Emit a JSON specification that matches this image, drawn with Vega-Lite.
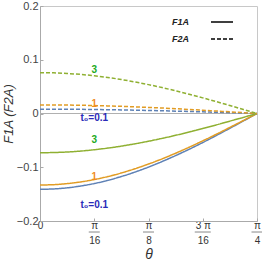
{
  "$schema": "https://vega.github.io/schema/vega-lite/v6.json",
  "width": 217,
  "height": 215,
  "autosize": {"type": "none"},
  "padding": {"left": 40, "top": 6, "right": 5, "bottom": 44},
  "background": "white",
  "config": {
    "font": "Liberation Sans",
    "view": {"stroke": "#c8c8c8", "strokeWidth": 1},
    "axis": {"grid": false, "domainColor": "#aaaaaa", "tickColor": "#aaaaaa", "labelColor": "#444444", "titleColor": "#333333", "labelFont": "Liberation Sans", "titleFont": "Liberation Sans"}
  },
  "datasets": {
    "curves": [
      {"theta": 0.0, "t0": "0.1", "F": "F1A", "value": -0.1410},
      {"theta": 0.04909, "t0": "0.1", "F": "F1A", "value": -0.1403},
      {"theta": 0.09817, "t0": "0.1", "F": "F1A", "value": -0.1383},
      {"theta": 0.14726, "t0": "0.1", "F": "F1A", "value": -0.1349},
      {"theta": 0.19635, "t0": "0.1", "F": "F1A", "value": -0.1303},
      {"theta": 0.24544, "t0": "0.1", "F": "F1A", "value": -0.1244},
      {"theta": 0.29452, "t0": "0.1", "F": "F1A", "value": -0.1172},
      {"theta": 0.34361, "t0": "0.1", "F": "F1A", "value": -0.1090},
      {"theta": 0.39270, "t0": "0.1", "F": "F1A", "value": -0.0997},
      {"theta": 0.44179, "t0": "0.1", "F": "F1A", "value": -0.0894},
      {"theta": 0.49087, "t0": "0.1", "F": "F1A", "value": -0.0783},
      {"theta": 0.53996, "t0": "0.1", "F": "F1A", "value": -0.0665},
      {"theta": 0.58905, "t0": "0.1", "F": "F1A", "value": -0.0540},
      {"theta": 0.63814, "t0": "0.1", "F": "F1A", "value": -0.0409},
      {"theta": 0.68722, "t0": "0.1", "F": "F1A", "value": -0.0275},
      {"theta": 0.73631, "t0": "0.1", "F": "F1A", "value": -0.0138},
      {"theta": 0.78540, "t0": "0.1", "F": "F1A", "value": 0.0},
      {"theta": 0.0, "t0": "1", "F": "F1A", "value": -0.1330},
      {"theta": 0.04909, "t0": "1", "F": "F1A", "value": -0.1324},
      {"theta": 0.09817, "t0": "1", "F": "F1A", "value": -0.1304},
      {"theta": 0.14726, "t0": "1", "F": "F1A", "value": -0.1273},
      {"theta": 0.19635, "t0": "1", "F": "F1A", "value": -0.1229},
      {"theta": 0.24544, "t0": "1", "F": "F1A", "value": -0.1173},
      {"theta": 0.29452, "t0": "1", "F": "F1A", "value": -0.1106},
      {"theta": 0.34361, "t0": "1", "F": "F1A", "value": -0.1028},
      {"theta": 0.39270, "t0": "1", "F": "F1A", "value": -0.0940},
      {"theta": 0.44179, "t0": "1", "F": "F1A", "value": -0.0844},
      {"theta": 0.49087, "t0": "1", "F": "F1A", "value": -0.0739},
      {"theta": 0.53996, "t0": "1", "F": "F1A", "value": -0.0627},
      {"theta": 0.58905, "t0": "1", "F": "F1A", "value": -0.0509},
      {"theta": 0.63814, "t0": "1", "F": "F1A", "value": -0.0386},
      {"theta": 0.68722, "t0": "1", "F": "F1A", "value": -0.0259},
      {"theta": 0.73631, "t0": "1", "F": "F1A", "value": -0.0130},
      {"theta": 0.78540, "t0": "1", "F": "F1A", "value": 0.0},
      {"theta": 0.0, "t0": "3", "F": "F1A", "value": -0.0730},
      {"theta": 0.04909, "t0": "3", "F": "F1A", "value": -0.0726},
      {"theta": 0.09817, "t0": "3", "F": "F1A", "value": -0.0716},
      {"theta": 0.14726, "t0": "3", "F": "F1A", "value": -0.0699},
      {"theta": 0.19635, "t0": "3", "F": "F1A", "value": -0.0674},
      {"theta": 0.24544, "t0": "3", "F": "F1A", "value": -0.0644},
      {"theta": 0.29452, "t0": "3", "F": "F1A", "value": -0.0607},
      {"theta": 0.34361, "t0": "3", "F": "F1A", "value": -0.0564},
      {"theta": 0.39270, "t0": "3", "F": "F1A", "value": -0.0516},
      {"theta": 0.44179, "t0": "3", "F": "F1A", "value": -0.0463},
      {"theta": 0.49087, "t0": "3", "F": "F1A", "value": -0.0406},
      {"theta": 0.53996, "t0": "3", "F": "F1A", "value": -0.0344},
      {"theta": 0.58905, "t0": "3", "F": "F1A", "value": -0.0279},
      {"theta": 0.63814, "t0": "3", "F": "F1A", "value": -0.0212},
      {"theta": 0.68722, "t0": "3", "F": "F1A", "value": -0.0142},
      {"theta": 0.73631, "t0": "3", "F": "F1A", "value": -0.0072},
      {"theta": 0.78540, "t0": "3", "F": "F1A", "value": 0.0},
      {"theta": 0.0, "t0": "0.1", "F": "F2A", "value": 0.0080},
      {"theta": 0.04909, "t0": "0.1", "F": "F2A", "value": 0.0080},
      {"theta": 0.09817, "t0": "0.1", "F": "F2A", "value": 0.0078},
      {"theta": 0.14726, "t0": "0.1", "F": "F2A", "value": 0.0077},
      {"theta": 0.19635, "t0": "0.1", "F": "F2A", "value": 0.0074},
      {"theta": 0.24544, "t0": "0.1", "F": "F2A", "value": 0.0071},
      {"theta": 0.29452, "t0": "0.1", "F": "F2A", "value": 0.0067},
      {"theta": 0.34361, "t0": "0.1", "F": "F2A", "value": 0.0062},
      {"theta": 0.39270, "t0": "0.1", "F": "F2A", "value": 0.0057},
      {"theta": 0.44179, "t0": "0.1", "F": "F2A", "value": 0.0051},
      {"theta": 0.49087, "t0": "0.1", "F": "F2A", "value": 0.0044},
      {"theta": 0.53996, "t0": "0.1", "F": "F2A", "value": 0.0038},
      {"theta": 0.58905, "t0": "0.1", "F": "F2A", "value": 0.0031},
      {"theta": 0.63814, "t0": "0.1", "F": "F2A", "value": 0.0023},
      {"theta": 0.68722, "t0": "0.1", "F": "F2A", "value": 0.0016},
      {"theta": 0.73631, "t0": "0.1", "F": "F2A", "value": 0.0008},
      {"theta": 0.78540, "t0": "0.1", "F": "F2A", "value": 0.0},
      {"theta": 0.0, "t0": "1", "F": "F2A", "value": 0.0160},
      {"theta": 0.04909, "t0": "1", "F": "F2A", "value": 0.0159},
      {"theta": 0.09817, "t0": "1", "F": "F2A", "value": 0.0157},
      {"theta": 0.14726, "t0": "1", "F": "F2A", "value": 0.0153},
      {"theta": 0.19635, "t0": "1", "F": "F2A", "value": 0.0148},
      {"theta": 0.24544, "t0": "1", "F": "F2A", "value": 0.0141},
      {"theta": 0.29452, "t0": "1", "F": "F2A", "value": 0.0133},
      {"theta": 0.34361, "t0": "1", "F": "F2A", "value": 0.0124},
      {"theta": 0.39270, "t0": "1", "F": "F2A", "value": 0.0113},
      {"theta": 0.44179, "t0": "1", "F": "F2A", "value": 0.0102},
      {"theta": 0.49087, "t0": "1", "F": "F2A", "value": 0.0089},
      {"theta": 0.53996, "t0": "1", "F": "F2A", "value": 0.0075},
      {"theta": 0.58905, "t0": "1", "F": "F2A", "value": 0.0061},
      {"theta": 0.63814, "t0": "1", "F": "F2A", "value": 0.0046},
      {"theta": 0.68722, "t0": "1", "F": "F2A", "value": 0.0031},
      {"theta": 0.73631, "t0": "1", "F": "F2A", "value": 0.0016},
      {"theta": 0.78540, "t0": "1", "F": "F2A", "value": 0.0},
      {"theta": 0.0, "t0": "3", "F": "F2A", "value": 0.0760},
      {"theta": 0.04909, "t0": "3", "F": "F2A", "value": 0.0756},
      {"theta": 0.09817, "t0": "3", "F": "F2A", "value": 0.0745},
      {"theta": 0.14726, "t0": "3", "F": "F2A", "value": 0.0727},
      {"theta": 0.19635, "t0": "3", "F": "F2A", "value": 0.0702},
      {"theta": 0.24544, "t0": "3", "F": "F2A", "value": 0.0670},
      {"theta": 0.29452, "t0": "3", "F": "F2A", "value": 0.0632},
      {"theta": 0.34361, "t0": "3", "F": "F2A", "value": 0.0587},
      {"theta": 0.39270, "t0": "3", "F": "F2A", "value": 0.0537},
      {"theta": 0.44179, "t0": "3", "F": "F2A", "value": 0.0482},
      {"theta": 0.49087, "t0": "3", "F": "F2A", "value": 0.0422},
      {"theta": 0.53996, "t0": "3", "F": "F2A", "value": 0.0358},
      {"theta": 0.58905, "t0": "3", "F": "F2A", "value": 0.0291},
      {"theta": 0.63814, "t0": "3", "F": "F2A", "value": 0.0221},
      {"theta": 0.68722, "t0": "3", "F": "F2A", "value": 0.0148},
      {"theta": 0.73631, "t0": "3", "F": "F2A", "value": 0.0074},
      {"theta": 0.78540, "t0": "3", "F": "F2A", "value": 0.0}
    ],
    "labels": [
      {"theta": 0.19635, "value": 0.081, "label": "3", "t0": "3"},
      {"theta": 0.19635, "value": -0.050, "label": "3", "t0": "3"},
      {"theta": 0.19635, "value": 0.017, "label": "1", "t0": "1"},
      {"theta": 0.19635, "value": -0.119, "label": "1", "t0": "1"},
      {"theta": 0.19635, "value": -0.009, "label": "t₀=0.1", "t0": "0.1"},
      {"theta": 0.19635, "value": -0.171, "label": "t₀=0.1", "t0": "0.1"}
    ],
    "fracticks": [
      {"theta": 0.19635},
      {"theta": 0.392699},
      {"theta": 0.589049},
      {"theta": 0.785398}
    ]
  },
  "layer": [
    {
      "data": {"values": [{"y0": 0}]},
      "mark": {"type": "rule", "color": "#b0b0b0", "strokeWidth": 1},
      "encoding": {"y": {"field": "y0", "type": "quantitative"}}
    },
    {
      "data": {"name": "curves"},
      "mark": {"type": "line", "strokeWidth": 1.5, "interpolate": "monotone"},
      "encoding": {
        "x": {
          "field": "theta", "type": "quantitative",
          "scale": {"domain": [0, 0.785398], "nice": false, "zero": false},
          "axis": {
            "title": "θ", "titleFontStyle": "italic", "titleFontSize": 14, "titleFontWeight": "normal", "titlePadding": 2,
            "values": [0, 0.19635, 0.392699, 0.589049, 0.785398],
            "labelExpr": "datum.value < 0.1 ? '0' : datum.value < 0.3 ? ['π','16'] : datum.value < 0.5 ? ['π','8'] : datum.value < 0.7 ? ['3 π','16'] : ['π','4']",
            "labelFontSize": 10, "labelLineHeight": 15, "tickSize": -3, "labelPadding": 2.5, "labelBaseline": "top", "labelFlush": false, "labelColor": "#333333"
          }
        },
        "y": {
          "field": "value", "type": "quantitative",
          "scale": {"domain": [-0.2, 0.2], "nice": false, "zero": false},
          "axis": {
            "title": "F1A (F2A)", "titleFontStyle": "italic", "titleFontSize": 13, "titleFontWeight": "normal", "titlePadding": 1,
            "values": [-0.2, -0.1, 0, 0.1, 0.2], "format": ".1~f",
            "labelFontSize": 11, "tickSize": -3, "labelPadding": 5, "labelFlush": false
          }
        },
        "stroke": {
          "field": "t0", "type": "nominal",
          "scale": {"domain": ["0.1", "1", "3"], "range": ["#5E81B5", "#E19C24", "#8FB032"]},
          "legend": null
        },
        "strokeDash": {
          "field": "F", "type": "nominal",
          "scale": {"domain": ["F1A", "F2A"], "range": [[1, 0], [4, 2]]},
          "legend": {
            "title": null, "orient": "none", "legendX": 170, "legendY": 4, "padding": 0,
            "symbolType": "stroke", "symbolSize": 484, "symbolStrokeColor": "black", "symbolStrokeWidth": 1.5,
            "rowPadding": -9,
            "labelAlign": "right", "labelOffset": -45, "labelFontSize": 9, "labelFontStyle": "italic", "labelFontWeight": "bold", "labelColor": "#222222",
            "encode": {"symbols": {"update": {"stroke": {"value": "black"}, "strokeWidth": {"value": 1.5}, "opacity": {"value": 1}}}}
          }
        },
        "detail": {"field": "t0"}
      }
    },
    {
      "data": {"name": "fracticks"},
      "mark": {"type": "tick", "orient": "horizontal", "thickness": 1, "color": "#555555", "clip": false},
      "encoding": {
        "x": {"field": "theta", "type": "quantitative"},
        "y": {"datum": -0.2205},
        "size": {"condition": {"test": "datum.theta > 0.5 && datum.theta < 0.7", "value": 16}, "value": 11}
      }
    },
    {
      "data": {"name": "labels"},
      "mark": {"type": "text", "fontSize": 10, "fontWeight": "bold", "align": "center", "baseline": "middle"},
      "encoding": {
        "x": {"field": "theta", "type": "quantitative"},
        "y": {"field": "value", "type": "quantitative"},
        "text": {"field": "label"},
        "fill": {
          "field": "t0", "type": "nominal",
          "scale": {"domain": ["0.1", "1", "3"], "range": ["#2a2ab8", "#f08c1e", "#22aa22"]},
          "legend": null
        }
      }
    }
  ]
}
